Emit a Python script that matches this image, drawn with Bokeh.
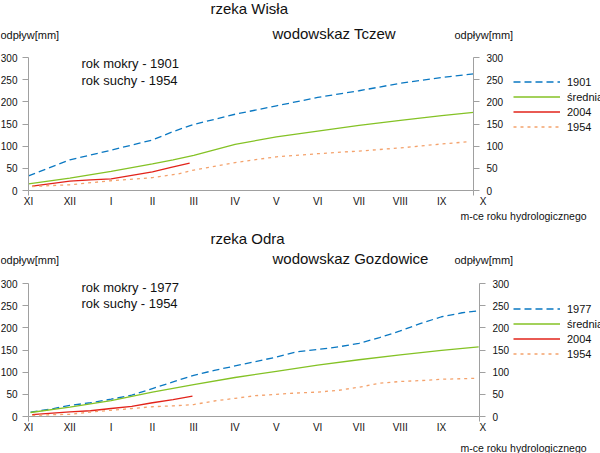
from bokeh.plotting import figure
from bokeh.models import Range1d, LinearAxis, FixedTicker, Label, Legend, LegendItem
from bokeh.layouts import column
from bokeh.embed import file_html
from bokeh.resources import INLINE

# ---- data ----
months = ["XI", "XII", "I", "II", "III", "IV", "V", "VI", "VII", "VIII", "IX", "X"]
y_ticks = [0, 50, 100, 150, 200, 250, 300]

# Wisła – Tczew
w_wet_x = [0, 1, 2, 3, 3.5, 4, 5, 6, 7, 8, 9, 10, 10.77]
w_wet = [33, 69, 91, 114, 133, 149, 172, 191, 210, 225, 242, 255, 263]
w_avg_x = [0, 1, 2, 3, 3.5, 4, 5, 6, 7, 8, 9, 10, 10.77]
w_avg = [15, 28, 43, 60, 69, 79, 104, 121, 134, 147, 158, 169, 176]
w_2004_x = [0.09, 0.5, 1, 1.5, 2, 2.5, 3, 3.45, 3.9]
w_2004 = [10, 15, 21, 24, 26, 34, 42, 52, 62]
w_dry_x = [0.09, 1, 2, 3, 3.6, 4, 5, 6, 7, 8, 9, 10, 10.65]
w_dry = [9, 13, 22, 29, 37, 46, 63, 76, 83, 89, 96, 105, 110]

# Odra – Gozdowice
o_wet_x = [0.05, 0.5, 1, 1.5, 2, 2.5, 3, 3.5, 4, 4.5, 5, 6, 6.5, 7, 7.5, 8, 8.5, 9, 9.5, 10, 10.5, 10.86]
o_wet = [10, 16, 25, 31, 39, 48, 63, 78, 93, 104, 114, 134, 146, 151, 157, 165, 178, 193, 210, 225, 234, 238]
o_avg_x = [0.05, 1, 2, 3, 4, 5, 6, 7, 8, 9, 10, 10.9]
o_avg = [9, 21, 36, 55, 72, 88, 102, 116, 128, 139, 149, 157]
o_2004_x = [0.09, 0.5, 1, 1.5, 2, 2.5, 3, 3.5, 3.97]
o_2004 = [4, 7, 10.5, 13, 18, 23, 31, 38, 46]
o_dry_x = [0.09, 0.5, 1, 1.5, 2, 2.5, 3, 3.5, 4, 4.5, 5, 5.5, 6, 6.5, 7, 7.5, 8, 8.5, 9, 9.5, 10, 10.8]
o_dry = [2, 4, 5, 10, 14, 18, 22, 24, 27, 35, 41, 47, 50, 53, 55, 59, 66, 75, 79, 81, 84, 86]

BLUE = "#0a78c2"
GREEN = "#84c225"
RED = "#e2231a"
ORANGE = "#f4a26c"
GRAY = "#a0a0a0"
TXT = "#111111"
FONT = "Liberation Sans"


def make_chart(H, x_end, px_right, river, gauge, wet_year, dry_year,
               wet_x, wet, avg_x, avg, cur_x, cur, dry_x, dry, pos):
    px_left, py0, py300 = 28, 190, 57
    k = (px_right - px_left) / x_end          # px per month
    s = 300 / (py0 - py300)                   # mm per px
    p = figure(width=600, height=H, output_backend="svg", toolbar_location=None,
               x_range=Range1d(-px_left / k, (600 - px_left) / k),
               y_range=Range1d(-(H - py0) * s, py0 * s),
               x_axis_type=None, y_axis_type=None, title_location=None,
               min_border_left=0, min_border_right=0, min_border_top=0, min_border_bottom=0)
    p.xgrid.visible = False
    p.ygrid.visible = False
    p.outline_line_color = None
    p.background_fill_color = "white"
    p.border_fill_color = "white"

    # x axis line with end ticks (no labels)
    xa = LinearAxis(fixed_location=0, bounds=(0, x_end))
    xa.ticker = FixedTicker(ticks=[], minor_ticks=[0, x_end])
    xa.major_tick_out = 0
    xa.major_tick_in = 0
    xa.minor_tick_out = 5
    xa.minor_tick_in = 0
    xa.minor_tick_line_color = GRAY
    xa.axis_line_color = GRAY
    xa.major_label_text_font_size = "0px"
    p.add_layout(xa, "below")

    # month labels (XI ... X), one per month step
    xl = LinearAxis(fixed_location=0, bounds=(0, 11))
    xl.ticker = FixedTicker(ticks=list(range(12)), minor_ticks=[])
    xl.major_label_overrides = {i: months[i] for i in range(12)}
    xl.axis_line_color = None
    xl.major_tick_line_color = None
    xl.major_tick_out = 0
    xl.major_tick_in = 0
    xl.major_label_standoff = 5
    xl.major_label_text_font = FONT
    xl.major_label_text_font_size = "10px"
    xl.major_label_text_color = TXT
    p.add_layout(xl, "below")

    # y axes
    ya = LinearAxis(fixed_location=0, bounds=(0, 300))
    ra = LinearAxis(fixed_location=x_end, bounds=(0, 300))
    p.add_layout(ya, "left")
    p.add_layout(ra, "right")
    for ax, so in ((ya, 5), (ra, 7)):
        ax.ticker = FixedTicker(ticks=y_ticks, minor_ticks=[])
        ax.major_tick_out = 6
        ax.major_tick_in = 0
        ax.major_tick_line_color = GRAY
        ax.axis_line_color = GRAY
        ax.major_label_text_font = FONT
        ax.major_label_text_font_size = "10px"
        ax.major_label_text_color = TXT
        ax.major_label_standoff = so

    r_wet = p.line(wet_x, wet, line_color=BLUE, line_width=1.3, line_dash="7 4")
    r_avg = p.line(avg_x, avg, line_color=GREEN, line_width=1.3)
    r_cur = p.line(cur_x, cur, line_color=RED, line_width=1.3)
    r_dry = p.line(dry_x, dry, line_color=ORANGE, line_width=1.3, line_dash="3 4")

    legend = Legend(items=[LegendItem(label=str(wet_year), renderers=[r_wet]),
                           LegendItem(label="średnia", renderers=[r_avg]),
                           LegendItem(label="2004", renderers=[r_cur]),
                           LegendItem(label=str(dry_year), renderers=[r_dry])],
                    location=(513, H - pos["legend_bottom"]), padding=0, margin=0, spacing=0,
                    glyph_width=47, glyph_height=15, label_height=15, label_width=10,
                    label_standoff=7, label_text_font=FONT, label_text_font_size="11px",
                    label_text_color=TXT,
                    border_line_color=None, background_fill_alpha=0)
    p.add_layout(legend)

    def lab(text, x, py, size, align="left"):
        p.add_layout(Label(x=x, y=H - py, x_units="screen", y_units="screen", text=text,
                           text_font=FONT, text_font_size=size, text_color=TXT,
                           text_baseline="middle", text_align=align))

    lab(river, 210, pos["river"], "15px")
    lab(gauge, 272, pos["gauge"], "15px")
    lab("rok mokry - %d" % wet_year, 81, pos["wet"], "13px")
    lab("rok suchy - %d" % dry_year, 81, pos["dry"], "13px")
    lab("odpływ[mm]", 0, pos["unit"], "11px")
    lab("odpływ[mm]", 454, pos["unit"], "11px")
    lab("m-ce roku hydrologicznego", 460, pos["xlabel"], "10.5px")
    return p


p1 = make_chart(226, 10.77, 473, "rzeka Wisła", "wodowskaz Tczew", 1901, 1954,
                w_wet_x, w_wet, w_avg_x, w_avg, w_2004_x, w_2004, w_dry_x, w_dry,
                dict(river=8, gauge=33, wet=63, dry=80, unit=34, xlabel=215,
                     legend_bottom=134))
p2 = make_chart(227, 10.92, 479, "rzeka Odra", "wodowskaz Gozdowice", 1977, 1954,
                o_wet_x, o_wet, o_avg_x, o_avg, o_2004_x, o_2004, o_dry_x, o_dry,
                dict(river=12, gauge=32, wet=61, dry=77, unit=33, xlabel=221,
                     legend_bottom=135))

layout = column(p1, p2)
open("out.html", "w").write(file_html(layout, INLINE))
